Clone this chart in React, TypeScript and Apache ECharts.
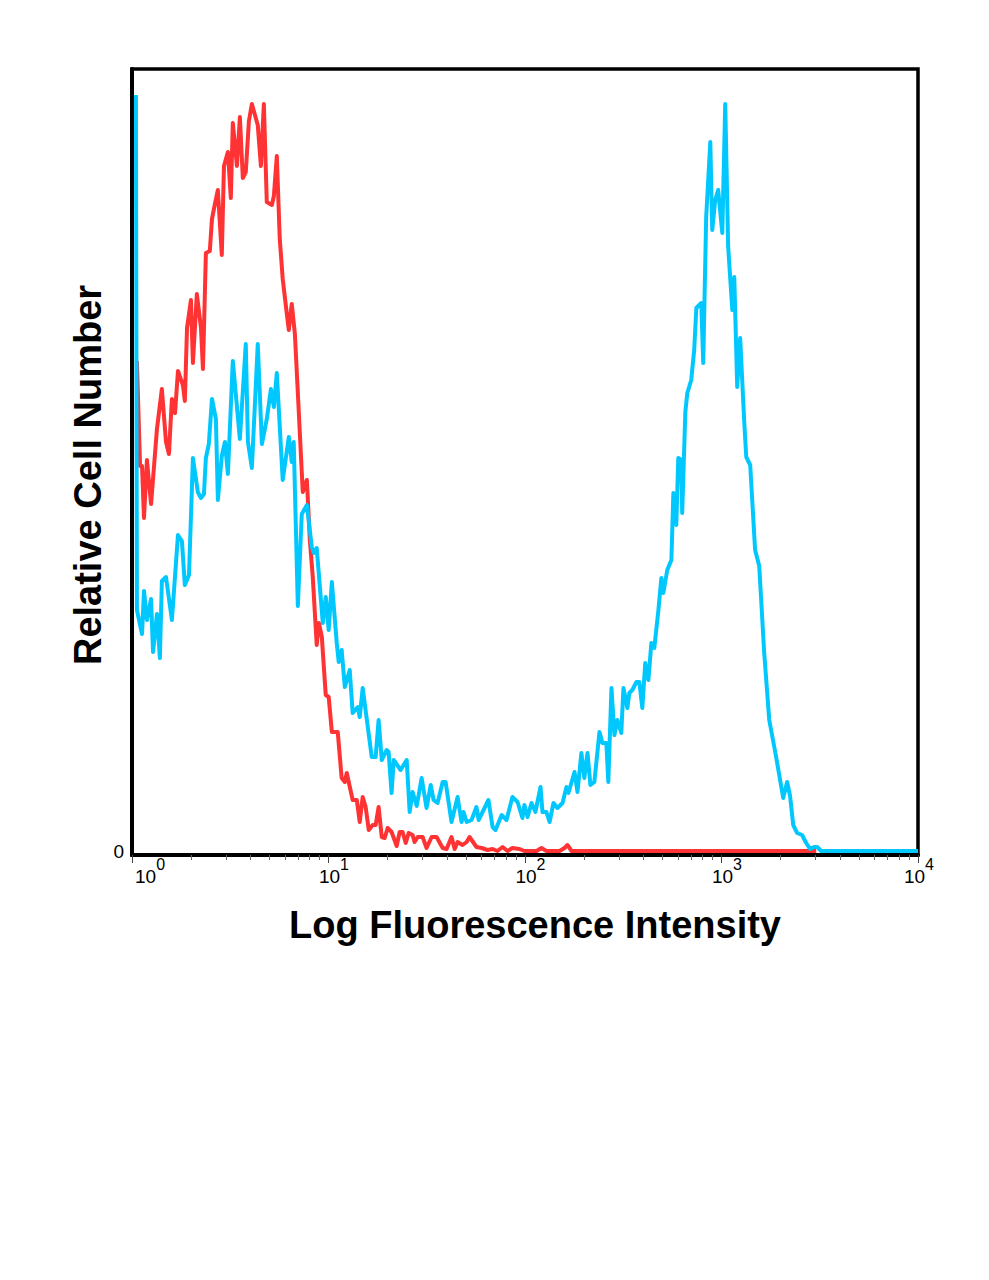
import React, { useEffect, useRef } from "react";
import * as echarts from "echarts";

// x positions are log10(intensity) (decades), y are relative cell counts
const blueLog = [
  0.020, 0.025, 0.051, 0.061, 0.076, 0.097, 0.107, 0.127, 0.142, 0.152,
  0.173, 0.203, 0.234, 0.254, 0.269, 0.290, 0.310, 0.335, 0.351, 0.366,
  0.376, 0.391, 0.407, 0.427, 0.437, 0.457, 0.473, 0.488, 0.513, 0.549,
  0.579, 0.590, 0.610, 0.640, 0.661, 0.686, 0.707, 0.722, 0.737, 0.767,
  0.798, 0.813, 0.823, 0.844, 0.864, 0.890, 0.915, 0.925, 0.940, 0.971,
  0.986, 1.001, 1.017, 1.042, 1.052, 1.067, 1.083, 1.108, 1.123, 1.149,
  1.159, 1.174, 1.220, 1.240, 1.255, 1.271, 1.296, 1.306, 1.321, 1.332,
  1.367, 1.398, 1.413, 1.428, 1.449, 1.474, 1.499, 1.520, 1.535, 1.555,
  1.581, 1.596, 1.626, 1.657, 1.677, 1.687, 1.703, 1.728, 1.753, 1.764,
  1.789, 1.814, 1.835, 1.850, 1.881, 1.906, 1.936, 1.962, 1.987, 1.997,
  2.013, 2.033, 2.053, 2.079, 2.089, 2.109, 2.125, 2.145, 2.165, 2.191,
  2.211, 2.221, 2.252, 2.267, 2.287, 2.302, 2.318, 2.333, 2.353, 2.379,
  2.394, 2.414, 2.424, 2.440, 2.455, 2.470, 2.490, 2.501, 2.521, 2.531,
  2.546, 2.567, 2.582, 2.597, 2.612, 2.628, 2.643, 2.658, 2.679, 2.694,
  2.704, 2.724, 2.745, 2.755, 2.770, 2.780, 2.795, 2.800, 2.816, 2.826,
  2.846, 2.861, 2.872, 2.897, 2.907, 2.922, 2.943, 2.953, 2.968, 2.983,
  3.004, 3.019, 3.034, 3.055, 3.065, 3.080, 3.095, 3.116, 3.126, 3.146,
  3.171, 3.192, 3.217, 3.243, 3.278, 3.314, 3.334, 3.349, 3.365, 3.385,
  3.410, 3.431, 3.451, 3.471, 3.487, 3.507, 4.000,
];
const blueCount = [
  756, 241, 217, 260, 231, 252, 199, 237, 193, 270,
  274, 231, 316, 310, 266, 276, 393, 359, 353, 357,
  393, 407, 452, 432, 351, 395, 409, 377, 490, 412,
  507, 409, 383, 507, 407, 432, 462, 444, 478, 371,
  414, 389, 409, 245, 337, 346, 304, 298, 303, 228,
  254, 221, 269, 208, 189, 201, 164, 181, 138, 144,
  134, 163, 94, 94, 131, 91, 101, 99, 58, 91,
  81, 91, 39, 59, 45, 73, 43, 66, 51, 48,
  69, 69, 29, 54, 29, 39, 29, 31, 44, 31,
  41, 51, 24, 21, 36, 31, 54, 49, 33, 46,
  34, 48, 39, 64, 39, 39, 29, 48, 43, 48,
  64, 58, 79, 59, 98, 73, 98, 66, 69, 119,
  108, 108, 69, 163, 116, 131, 118, 163, 143, 158,
  161, 169, 169, 143, 188, 171, 208, 203, 241, 273,
  258, 281, 291, 358, 326, 393, 391, 338, 439, 458,
  471, 501, 543, 548, 488, 634, 709, 621, 651, 661,
  618, 747, 604, 541, 574, 464, 513, 428, 394, 386,
  301, 285, 199, 131, 94, 53, 69, 55, 26, 18,
  16, 8, 2, 4, 4, 0, 0,
];

const redLog = [
  0.025, 0.041, 0.051, 0.061, 0.076, 0.097, 0.127, 0.152, 0.173, 0.188,
  0.203, 0.219, 0.234, 0.259, 0.269, 0.280, 0.300, 0.310, 0.330, 0.351,
  0.361, 0.376, 0.396, 0.407, 0.422, 0.437, 0.457, 0.468, 0.488, 0.503,
  0.513, 0.534, 0.549, 0.564, 0.579, 0.595, 0.610, 0.640, 0.656, 0.671,
  0.686, 0.712, 0.722, 0.737, 0.752, 0.767, 0.788, 0.798, 0.813, 0.829,
  0.844, 0.869, 0.890, 0.905, 0.920, 0.940, 0.951, 0.966, 0.986, 1.001,
  1.017, 1.047, 1.067, 1.083, 1.093, 1.123, 1.144, 1.159, 1.174, 1.189,
  1.205, 1.225, 1.240, 1.255, 1.271, 1.286, 1.301, 1.321, 1.347, 1.362,
  1.377, 1.393, 1.408, 1.428, 1.438, 1.454, 1.479, 1.499, 1.525, 1.550,
  1.581, 1.601, 1.626, 1.642, 1.657, 1.682, 1.703, 1.718, 1.753, 1.779,
  1.809, 1.835, 1.860, 1.886, 1.911, 1.936, 1.972, 1.997, 2.059, 2.084,
  2.109, 2.176, 2.201, 2.216, 2.237, 3.482,
];
const redCount = [
  490, 385, 385, 333, 391, 347, 422, 462, 409, 397,
  452, 438, 480, 466, 450, 523, 551, 488, 557, 523,
  482, 598, 600, 632, 647, 661, 596, 685, 699, 653,
  728, 685, 734, 673, 679, 730, 747, 726, 685, 747,
  649, 646, 655, 695, 612, 572, 537, 521, 547, 517,
  458, 359, 371, 311, 274, 206, 228, 214, 156, 154,
  119, 119, 73, 69, 78, 51, 51, 29, 54, 44,
  21, 26, 26, 44, 14, 13, 23, 19, 5, 19,
  19, 8, 18, 16, 9, 14, 14, 3, 14, 14,
  3, 2, 14, 2, 9, 6, 9, 14, 4, 3,
  1, 2, 0, 4, 0, 3, 2, 0, 0, 3,
  0, 0, 3, 6, 0, 0,
];

const xMin = 1;
const xMax = 10000;
const yMin = -4;
const yMax = 782;
const yLabelValues = [0];

const xTitle = "Log Fluorescence Intensity";
const yTitle = "Relative Cell Number";

const FONT = "'Liberation Sans', Arial, Helvetica, sans-serif";

export default function App() {
  const ref = useRef<HTMLDivElement>(null);

  useEffect(() => {
    if (!ref.current) return;
    const chart = echarts.init(ref.current, undefined, { renderer: "svg" });

    const blueData = blueLog.map((d, i) => [Math.pow(10, d), blueCount[i]]);
    const redData = redLog.map((d, i) => [Math.pow(10, d), redCount[i]]);

    chart.setOption({
      animation: false,
      backgroundColor: "#ffffff",
      grid: {
        left: 132,
        right: 71,
        top: 69,
        bottom: 425,
        show: true,
        borderColor: "#000",
        borderWidth: 3.5,
        backgroundColor: "transparent",
      },
      xAxis: {
        type: "log",
        logBase: 10,
        min: xMin,
        max: xMax,
        splitNumber: 4,
        axisLine: { show: true, onZero: false, lineStyle: { color: "#000", width: 4 } },
        axisTick: { show: true, length: 8, lineStyle: { color: "#444", width: 1 } },
        minorTick: { show: true, splitNumber: 9, length: 5, lineStyle: { color: "#666", width: 1 } },
        splitLine: { show: false },
        minorSplitLine: { show: false },
        axisLabel: {
          show: true,
          margin: 1,
          color: "#000",
          fontFamily: FONT,
          alignMinLabel: "left",
          alignMaxLabel: "center",
          showMinLabel: true,
          showMaxLabel: true,
          formatter: (value: number) => {
            const e = Math.round(Math.log10(value));
            const pad = e === 0 ? "p0" : e === 4 ? "p4" : "p1";
            return `{${pad}| }{b|10}{s|${e}}`;
          },
          rich: {
            p0: { width: 3, lineHeight: 30, fontSize: 10 },
            p1: { width: 11, lineHeight: 30, fontSize: 10 },
            p4: { width: 2, lineHeight: 30, fontSize: 10 },
            b: { fontSize: 19, lineHeight: 19, verticalAlign: "bottom", fontFamily: FONT, color: "#000" },
            s: { fontSize: 16, lineHeight: 16, verticalAlign: "top", fontFamily: FONT, color: "#000" },
          },
        },
      },
      yAxis: {
        type: "value",
        min: yMin,
        max: yMax,
        axisLine: { show: true, onZero: false, lineStyle: { color: "#000", width: 4 } },
        axisTick: { show: false },
        splitLine: { show: false },
        axisLabel: {
          show: true,
          customValues: yLabelValues,
          margin: 8,
          color: "#000",
          fontSize: 19,
          fontFamily: FONT,
          formatter: (v: number) => String(v),
        },
      },
      graphic: [
        {
          type: "text",
          x: 535,
          y: 925,
          style: {
            text: xTitle,
            font: `bold 38px ${FONT}`,
            fill: "#000",
            textAlign: "center",
            textVerticalAlign: "middle",
          },
        },
        {
          type: "text",
          x: 88,
          y: 475,
          rotation: Math.PI / 2,
          style: {
            text: yTitle,
            font: `bold 38px ${FONT}`,
            fill: "#000",
            textAlign: "center",
            textVerticalAlign: "middle",
          },
        },
      ],
      series: [
        {
          type: "line",
          name: "control",
          data: redData,
          symbol: "none",
          showSymbol: false,
          z: 2,
          itemStyle: { color: "#FF3333" },
          lineStyle: { color: "#FF3333", width: 4, join: "round" },
        },
        {
          type: "line",
          name: "stained",
          data: blueData,
          symbol: "none",
          showSymbol: false,
          z: 3,
          itemStyle: { color: "#00C8FF" },
          lineStyle: { color: "#00C8FF", width: 4, join: "round" },
        },
      ],
    });

    return () => {
      chart.dispose();
    };
  }, []);

  return (
    <div
      ref={ref}
      style={{ position: "fixed", left: 0, top: 0, width: 989, height: 1280, background: "#fff" }}
    />
  );
}
